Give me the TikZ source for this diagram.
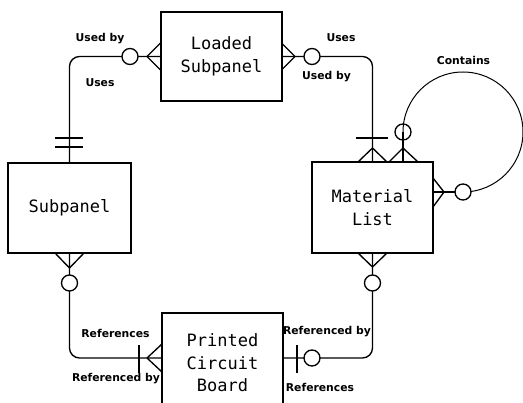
\documentclass[tikz,border=0pt]{standalone}
\usepackage{fontspec}
\newfontfamily\boxfont{DejaVu Sans Mono}
\newfontfamily\lblfont{DejaVu Sans}
\begin{document}
\begin{tikzpicture}[x=1pt,y=-1pt,line width=1.35pt,
  entity/.style={draw,rectangle,inner sep=0pt,align=center,
    font=\boxfont\fontsize{17}{22.5}\selectfont},
  lbl/.style={inner sep=0pt,font=\lblfont\bfseries\fontsize{10.8}{12}\selectfont},
  ring/.style={draw,circle,fill=white,minimum size=16pt,inner sep=0pt},
  openring/.style={draw,circle,minimum size=16pt,inner sep=0pt},
  conn/.style={rounded corners=10pt}]
\clip (0,0) rectangle (523,403);
% entities
\node[entity,minimum width=121pt,minimum height=89pt] (lp) at (221.5,56.5) {Loaded\\Subpanel};
\node[entity,minimum width=123pt,minimum height=90pt] (sp) at (69.5,208) {Subpanel};
\node[entity,minimum width=121pt,minimum height=91pt] (ml) at (372.5,207.5) {Material\\List};
\node[entity,minimum width=121pt,minimum height=100pt] (pcb) at (222.5,363) {Printed\\Circuit\\Board};
% connection points
\coordinate (pcbL) at ([yshift=5pt]pcb.west);
\coordinate (pcbR) at ([yshift=5pt]pcb.east);
\coordinate (mlT) at ([xshift=30.5pt]ml.north);
\coordinate (mlR) at ([yshift=15.5pt]ml.east);
\coordinate (loopL) at (403,132);
% connectors
\draw[conn] (lp.west) -| (sp.north);
\draw[conn] (lp.east) -| (ml.north);
\draw[conn] (sp.south) |- (pcbL);
\draw[conn] (pcbR) -| (ml.south);
\draw (mlT) -- (loopL);
\draw[line width=1pt] (loopL) arc[start angle=180,end angle=-90,radius=60pt] -- (mlR);
\draw (463,192) -- (mlR);
% crow's feet
\draw (147,56.5) -- (161.5,42) (147,56.5) -- (161.5,71);
\draw (295,56.5) -- (281.5,43) (295,56.5) -- (281.5,70);
\draw (372.5,148) -- (358,162) (372.5,148) -- (387,162);
\draw (403,148) -- (389,162) (403,148) -- (418,162);
\draw (444,192) -- (433,178) (444,192) -- (433,207);
\draw (69.5,268) -- (55,253) (69.5,268) -- (84,253);
\draw (372.5,267) -- (358,253) (372.5,267) -- (387,253);
\draw (147,358) -- (162,344) (147,358) -- (162,372);
% bars
\draw (55,138) -- (83,138) (55,147) -- (83,147);
\draw (356,138) -- (388,138);
\draw (139,345) -- (139,373);
\draw (297,345) -- (297,373);
% rings
\node[ring] (r1) at (130,56.5) {};
\node[ring] (r2) at (312,56.5) {};
\node[openring] (r3) at (loopL) {};
\node[ring] (r4) at (463,192) {};
\node[ring] (r5) at (69.5,283) {};
\node[ring] (r6) at (372.5,283) {};
\node[ring] (r7) at (312,358) {};
% labels
\node[lbl] (l1) at (100,39) {Used by};
\node[lbl] (l2) at (100,83) {Uses};
\node[lbl] (l3) at (341,38) {Uses};
\node[lbl] (l4) at (326.5,77) {Used by};
\node[lbl] (l5) at (463.5,60) {Contains};
\node[lbl] (l6) at (115.5,333) {References};
\node[lbl] (l7) at (116,379) {Referenced by};
\node[lbl] (l8) at (327,332) {Referenced by};
\node[lbl] (l9) at (320,387) {References};
\end{tikzpicture}
\end{document}
